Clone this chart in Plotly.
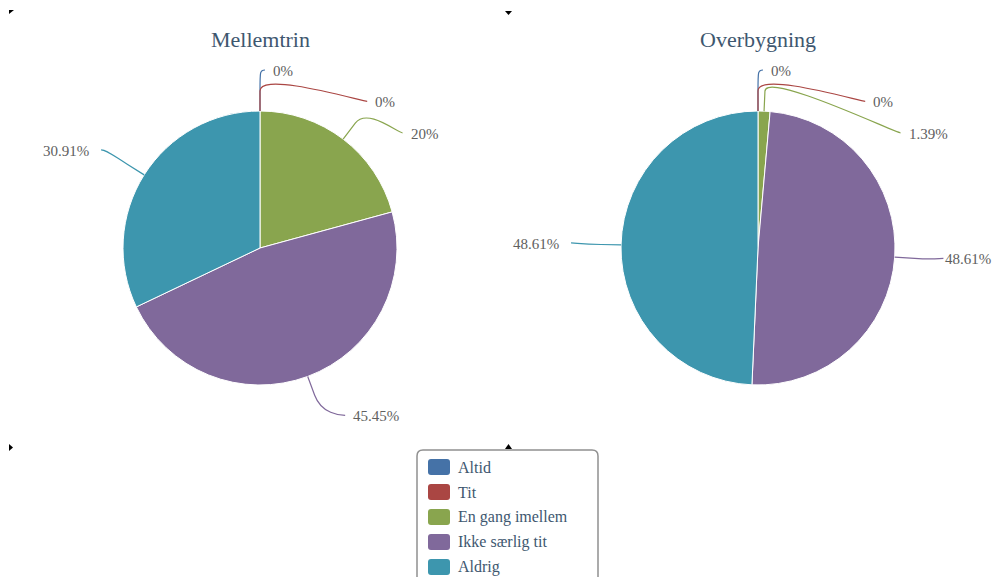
import math
import plotly.graph_objects as go

# --- data ---
categories = ["Altid", "Tit", "En gang imellem", "Ikke særlig tit", "Aldrig"]
colors = ["#4572A7", "#AA4643", "#89A54E", "#80699B", "#3D96AE"]
titles = ["Mellemtrin", "Overbygning"]
mellemtrin = [0, 0, 20, 45.45, 30.91]
overbygning = [0, 0, 1.39, 48.61, 48.61]

# --- layout constants (pixels, page coordinates) ---
PAGE_W, PAGE_H = 1002, 585
OFF = 8                      # body margin of the html page
W, H = PAGE_W - OFF, PAGE_H - 2 * OFF
RIGHT_LIMIT = PAGE_W - OFF - 1   # visible right edge for text
CHAR_W = 7.6                     # approx. width of a label character
FONT = "Liberation Serif, Times New Roman, serif"
R = 137
LABEL_DIST = 45
SLOT = 31.4
centers = [(260, 248), (758, 248)]


def place_labels(values, cx, cy):
    """Highcharts-ish outside label placement with connectors."""
    total = sum(values)
    rl = R + LABEL_DIST
    pts, cum = [], 0
    for i, v in enumerate(values):
        mid = (cum + v / 2) / total * 2 * math.pi
        cum += v
        sx, sy = math.sin(mid), -math.cos(mid)
        pts.append(dict(i=i, v=v, sx=sx, sy=sy, half=0 if mid < math.pi else 1,
                        ys=cy + sy * rl, off=0))
    for half in (0, 1):
        grp = sorted([p for p in pts if p["half"] == half], key=lambda p: p["ys"])
        crowded = any(b["ys"] - a["ys"] < SLOT for a, b in zip(grp, grp[1:]))
        if crowded:
            slots = [cy - rl + k * SLOT for k in range(int(2 * rl / SLOT) + 1)]
            used = set()
            for p in grp:
                k = min((k for k in range(len(slots)) if k not in used),
                        key=lambda k: abs(slots[k] - p["ys"]))
                used.add(k)
                p["ys"] = slots[k]
                p["off"] = 5
    for p in pts:
        d = max(-1, min(1, (p["ys"] - cy) / rl))
        dx = math.cos(math.asin(d)) * rl
        sign = 1 if p["half"] == 0 else -1
        p["x"] = cx + sign * dx
        p["y"] = p["ys"] + p["off"]
        p["sign"] = sign
    return pts


fig = go.Figure()
shapes, annotations = [], []

for k, (name, vals) in enumerate(zip(titles, [mellemtrin, overbygning])):
    cx, cy = centers[k]
    fig.add_trace(go.Pie(
        labels=categories, values=vals, name=name, sort=False,
        direction="clockwise", rotation=0, textinfo="none",
        marker=dict(colors=colors, line=dict(color="white", width=1)),
        domain=dict(x=[(cx - R - OFF) / W, (cx + R - OFF) / W],
                    y=[1 - (cy + R - OFF) / H, 1 - (cy - R - OFF) / H]),
        showlegend=False, hoverinfo="label+value"
    ))
    annotations.append(dict(
        x=cx, y=39, xref="x", yref="y", text=name, showarrow=False,
        font=dict(family=FONT, size=22, color="#3E576F")
    ))
    for p in place_labels(vals, cx, cy):
        text = f"{p['v']:g}%"
        lx = p["x"]
        if p["sign"] > 0:
            tx, anchor = lx + 11, "left"
            if tx + CHAR_W * len(text) > RIGHT_LIMIT:      # justify inside the page
                tx, anchor = RIGHT_LIMIT, "right"
                lx = RIGHT_LIMIT - CHAR_W * len(text) - 9
        else:
            tx, anchor = lx - 15, "right"
        annotations.append(dict(
            x=tx, y=p["y"], xref="x", yref="y", text=text, showarrow=False,
            xanchor=anchor, font=dict(family=FONT, size=15, color="#606060")
        ))
        ex, ey = cx + p["sx"] * R, cy + p["sy"] * R
        bx, by = cx + p["sx"] * (R + 20), cy + p["sy"] * (R + 20)
        yc = p["y"] - 1
        path = (f"M {lx + 5 * p['sign']},{yc} "
                f"C {lx},{yc} {2 * bx - ex},{2 * by - ey} {bx},{by} "
                f"L {ex},{ey}")
        shapes.append(dict(type="path", path=path, xref="x", yref="y",
                           line=dict(color=colors[p["i"]], width=1.2)))

# legend box (rounded) + items
lx0, lx1, ly0, ly1, rr = 417, 598, 450, 600, 6
shapes.append(dict(
    type="path", xref="x", yref="y",
    path=(f"M {lx0 + rr},{ly0} L {lx1 - rr},{ly0} Q {lx1},{ly0} {lx1},{ly0 + rr} "
          f"L {lx1},{ly1} L {lx0},{ly1} L {lx0},{ly0 + rr} Q {lx0},{ly0} {lx0 + rr},{ly0} Z"),
    line=dict(color="#909090", width=1.5), fillcolor="white", layer="below"
))
for i, (cat, col) in enumerate(zip(categories, colors)):
    yi = 467 + 25 * i
    sx0, sx1, sy0, sy1, r2 = 428, 450, yi - 8, yi + 8, 3
    shapes.append(dict(
        type="path", xref="x", yref="y",
        path=(f"M {sx0 + r2},{sy0} L {sx1 - r2},{sy0} Q {sx1},{sy0} {sx1},{sy0 + r2} "
              f"L {sx1},{sy1 - r2} Q {sx1},{sy1} {sx1 - r2},{sy1} L {sx0 + r2},{sy1} "
              f"Q {sx0},{sy1} {sx0},{sy1 - r2} L {sx0},{sy0 + r2} Q {sx0},{sy0} {sx0 + r2},{sy0} Z"),
        fillcolor=col, line=dict(width=0)
    ))
    annotations.append(dict(
        x=456, y=yi, xref="x", yref="y", text=cat, showarrow=False,
        xanchor="left", font=dict(family=FONT, size=16, color="#3E576F")
    ))

# small corner marks
for path in ["M 9,10 L 14,10 L 9,14 Z", "M 505,11 L 512,11 L 508.5,15 Z",
             "M 9,444 L 13,447.5 L 9,451 Z", "M 505,449 L 512,449 L 508.5,444 Z"]:
    shapes.append(dict(type="path", path=path, xref="x", yref="y",
                       fillcolor="black", line=dict(width=0)))

fig.update_layout(
    width=W, height=H, margin=dict(l=0, r=0, t=0, b=0),
    paper_bgcolor="white", plot_bgcolor="white",
    xaxis=dict(range=[OFF, PAGE_W], visible=False, fixedrange=True),
    yaxis=dict(range=[OFF + H, OFF], visible=False, fixedrange=True),
    shapes=shapes, annotations=annotations, showlegend=False
)

fig.write_html("out.html")
